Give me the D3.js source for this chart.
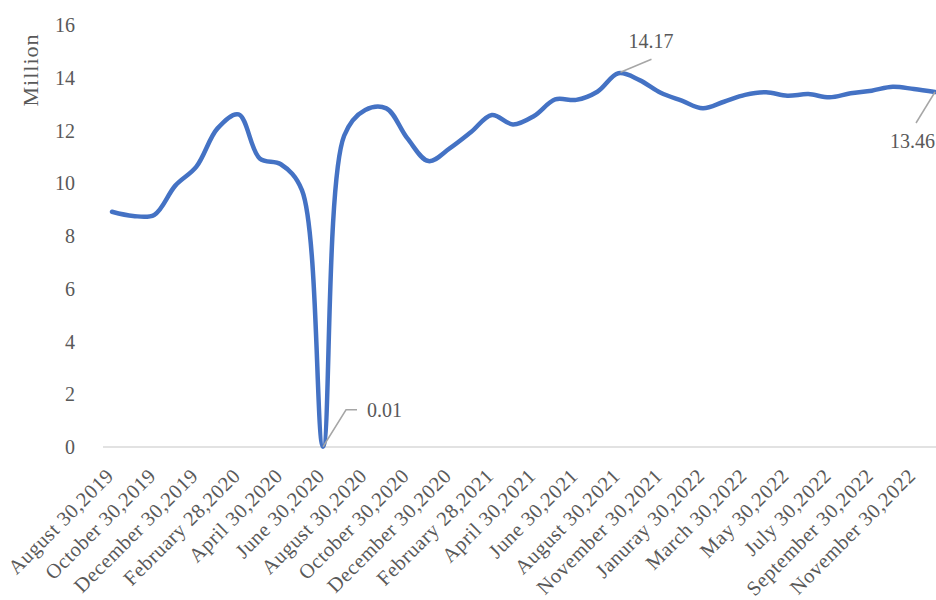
<!DOCTYPE html>
<html>
<head>
<meta charset="utf-8">
<script src="https://cdn.jsdelivr.net/npm/d3@7"></script>
<style>
  html, body { margin: 0; padding: 0; background: #fff; }
  svg { display: block; }
  text { font-family: "Liberation Serif", "DejaVu Serif", serif; fill: #595959; }
</style>
</head>
<body>
<svg id="chart" width="936" height="600"></svg>
<script>
const categories = [
  "August 30,2019", "September 30,2019", "October 30,2019", "November 30,2019",
  "December 30,2019", "January 30,2020", "February 28,2020", "March 30,2020",
  "April 30,2020", "May 30,2020", "June 30,2020", "July 30,2020",
  "August 30,2020", "September 30,2020", "October 30,2020", "November 30,2020",
  "December 30,2020", "January 30,2021", "February 28,2021", "March 30,2021",
  "April 30,2021", "May 30,2021", "June 30,2021", "July 30,2021",
  "August 30,2021", "September 30,2021", "November 30,2021", "December 30,2021",
  "Januray 30,2022", "February 28,2022", "March 30,2022", "April 30,2022",
  "May 30,2022", "June 30,2022", "July 30,2022", "August 30,2022",
  "September 30,2022", "October 30,2022", "November 30,2022", "December 30,2022"
];
const values = [
  8.92, 8.76, 8.80, 9.91, 10.63, 12.08, 12.61, 10.94, 10.72, 9.74,
  0.01, 11.80, 12.78, 12.84, 11.70, 10.84, 11.32, 11.93, 12.59, 12.23,
  12.55, 13.18, 13.16, 13.47, 14.17, 13.91, 13.43, 13.13, 12.84, 13.09,
  13.35, 13.45, 13.32, 13.38, 13.26, 13.41, 13.51, 13.66, 13.57, 13.46
];
const yTicks = [0, 2, 4, 6, 8, 10, 12, 14, 16];
const annotated = ["June 30,2020", "August 30,2021", "December 30,2022"];

const svg = d3.select("#chart");
const x = d3.scalePoint().domain(categories).range([112, 935]);
const y = d3.scaleLinear().domain([0, 16]).range([447, 25]);

// x axis baseline
svg.append("line")
  .attr("x1", 103).attr("x2", 936)
  .attr("y1", y(0)).attr("y2", y(0))
  .attr("stroke", "#d9d9d9").attr("stroke-width", 1.5);

// y tick labels
svg.append("g").selectAll("text").data(yTicks).join("text")
  .attr("x", 75).attr("y", d => y(d))
  .attr("dy", "0.35em")
  .attr("text-anchor", "end")
  .attr("font-size", 20)
  .text(d => d);

// y axis title
svg.append("text")
  .attr("transform", "translate(38,70) rotate(-90)")
  .attr("text-anchor", "middle")
  .attr("font-size", 22)
  .attr("letter-spacing", 1)
  .text("Million");

// x tick labels (every other category)
svg.append("g").selectAll("text")
  .data(categories.filter((d, i) => i % 2 === 0))
  .join("text")
  .attr("transform", d => `translate(${x(d) + 3},477) rotate(-45)`)
  .attr("text-anchor", "end")
  .attr("font-size", 20.5)
  .attr("letter-spacing", 0.6)
  .text(d => d);

// line
const line = d3.line()
  .x((d, i) => x(categories[i]))
  .y(d => y(d))
  .curve(d3.curveCatmullRom.alpha(0.5));

svg.append("path")
  .datum(values)
  .attr("d", line)
  .attr("fill", "none")
  .attr("stroke", "#4472C4")
  .attr("stroke-width", 4.5)
  .attr("stroke-linecap", "round")
  .attr("stroke-linejoin", "round");

// annotations with leader lines
const pt = c => [x(c), y(values[categories.indexOf(c)])];
const a0 = pt(annotated[0]);
const a1 = pt(annotated[1]);
const a2 = pt(annotated[2]);
const leaders = [
  [[a0[0], a0[1]], [a0[0] + 23, a0[1] - 37], [a0[0] + 34, a0[1] - 37]],
  [[a1[0] + 2, a1[1] - 1], [a1[0] + 33, a1[1] - 14]],
  [[a2[0], a2[1]], [a2[0] - 19, a2[1] + 31]]
];
svg.append("g").selectAll("path").data(leaders).join("path")
  .attr("d", d => d3.line()(d))
  .attr("fill", "none")
  .attr("stroke", "#a6a6a6")
  .attr("stroke-width", 1.5);

const labelPos = [
  [a0[0] + 44, a0[1] - 37, "0.01"],
  [a1[0] + 10, a1[1] - 32, "14.17"],
  [a2[0] - 45, a2[1] + 49, "13.46"]
];
svg.append("g").selectAll("text").data(labelPos).join("text")
  .attr("x", d => d[0]).attr("y", d => d[1])
  .attr("dy", "0.35em")
  .attr("font-size", 20)
  .attr("fill", "#404040")
  .text(d => d[2]);
</script>
</body>
</html>
